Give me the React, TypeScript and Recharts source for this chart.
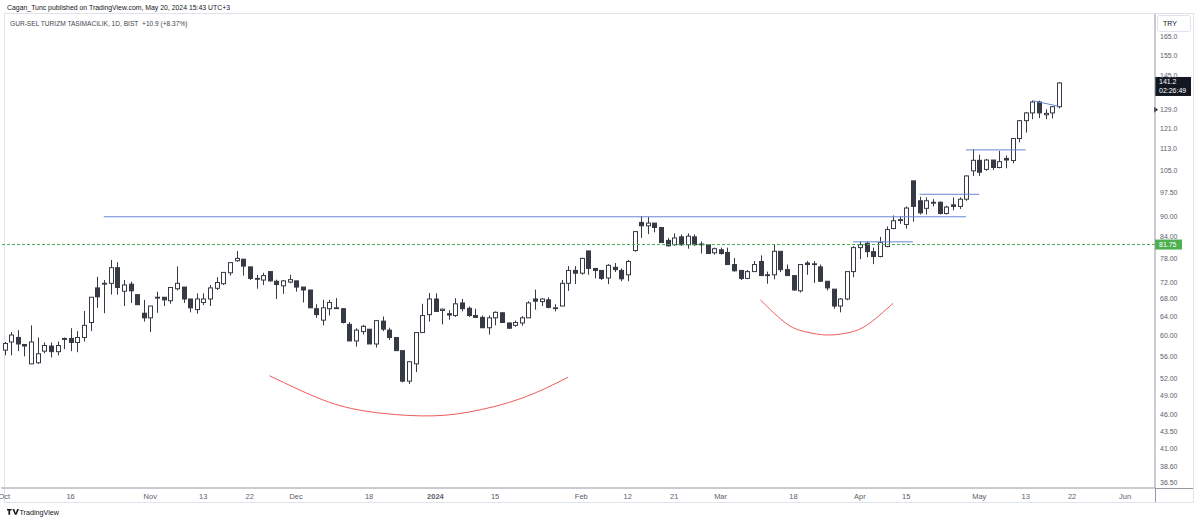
import React from 'react';
import { ComposedChart, Bar, Line, XAxis, YAxis, ReferenceLine } from 'recharts';

// GUR-SEL daily candles, Oct 2 2023 .. May 20 2024 (BIST sessions)
const opens = [
  57.2, 58.8, 59.7, 58.3, 54.6, 54.8, 57.0, 58.0, 56.9, 59.3,
  59.5, 58.7, 59.7, 62.8, 70.6, 71.5, 71.7, 75.6, 69.8, 71.5,
  69.0, 64.8, 63.8, 68.2, 68.4, 67.6, 70.4, 70.8, 68.0, 65.6,
  67.2, 68.0, 70.5, 71.6, 74.3, 77.4, 77.8, 75.8, 72.9, 72.5,
  74.6, 72.2, 71.1, 72.0, 72.3, 70.8, 70.1, 65.8, 63.3, 65.8,
  66.0, 65.8, 62.4, 59.0, 60.9, 61.4, 58.4, 63.1, 61.2, 59.7,
  57.1, 51.5, 54.6, 60.7, 64.5, 68.0, 65.4, 64.7, 64.3, 67.1,
  65.9, 64.3, 63.9, 61.7, 63.8, 64.9, 62.7, 62.2, 62.7, 63.8,
  68.0, 67.4, 67.8, 65.9, 66.4, 71.7, 74.9, 74.2, 80.0, 75.4,
  74.9, 73.0, 75.7, 74.9, 73.8, 80.1, 88.1, 87.1, 87.9, 86.6,
  82.9, 81.7, 83.9, 81.7, 83.9, 81.9, 81.7, 79.5, 80.3, 79.6,
  76.4, 74.9, 72.9, 74.6, 77.2, 73.8, 73.8, 79.9, 75.1, 73.6,
  69.9, 76.8, 76.4, 75.8, 72.2, 70.3, 66.4, 68.0, 74.6, 80.9,
  82.1, 79.8, 78.5, 81.2, 86.3, 88.9, 87.5, 101.4, 94.8, 92.4,
  94.3, 94.3, 90.8, 93.5, 93.0, 95.3, 104.9, 108.7, 105.4, 108.8,
  106.1, 109.4, 108.6, 117.0, 124.3, 127.6, 132.4, 126.8, 127.6, 130.3,
];
const highs = [
  58.8, 60.8, 61.2, 58.3, 62.2, 59.7, 58.7, 58.7, 58.9, 59.7,
  61.6, 61.0, 65.3, 68.4, 73.3, 72.5, 77.6, 77.0, 72.5, 72.1,
  69.0, 67.8, 66.4, 69.7, 68.4, 70.8, 75.9, 70.8, 68.0, 69.3,
  69.3, 71.3, 73.2, 74.4, 76.9, 80.0, 77.8, 75.8, 73.8, 74.3,
  74.6, 72.6, 72.5, 73.8, 72.3, 70.8, 70.1, 66.8, 67.8, 67.8,
  68.2, 65.8, 62.9, 61.6, 62.3, 61.4, 63.2, 64.1, 61.7, 59.8,
  57.1, 55.0, 60.7, 66.9, 69.4, 69.3, 65.8, 65.5, 68.2, 68.0,
  66.3, 65.8, 64.3, 64.3, 65.2, 65.0, 62.8, 63.2, 64.2, 67.5,
  70.2, 68.2, 68.4, 66.8, 72.5, 76.0, 76.0, 78.2, 80.0, 75.4,
  74.9, 76.5, 76.8, 75.4, 77.6, 85.6, 90.0, 89.7, 87.9, 86.6,
  83.6, 84.9, 84.6, 84.9, 84.6, 82.6, 81.7, 80.9, 80.9, 80.9,
  78.1, 75.0, 75.0, 77.3, 78.8, 74.6, 81.7, 79.9, 76.4, 73.6,
  76.4, 77.3, 77.3, 76.4, 72.2, 70.3, 68.2, 74.6, 81.3, 82.6,
  82.6, 80.9, 83.9, 86.9, 90.2, 90.0, 93.0, 101.4, 96.1, 95.9,
  95.3, 94.6, 93.2, 95.9, 95.9, 103.3, 112.8, 110.8, 109.2, 108.8,
  112.2, 110.5, 117.2, 124.6, 128.0, 133.0, 133.0, 129.2, 130.6, 141.6,
];
const lows = [
  56.2, 56.2, 57.0, 56.0, 54.6, 54.6, 56.6, 55.8, 56.2, 57.4,
  57.0, 56.8, 58.9, 61.0, 66.0, 64.8, 69.0, 69.0, 66.4, 67.1,
  66.6, 63.0, 60.8, 64.9, 66.4, 66.9, 70.0, 67.1, 65.0, 64.7,
  66.6, 66.4, 70.1, 71.3, 73.6, 77.1, 73.6, 72.5, 70.4, 71.3,
  72.1, 68.0, 69.2, 71.7, 69.7, 67.2, 66.0, 63.8, 62.2, 64.3,
  65.8, 62.6, 59.0, 57.9, 60.3, 58.4, 57.7, 61.0, 59.2, 57.1,
  51.3, 51.0, 53.1, 60.7, 63.0, 65.2, 62.4, 63.4, 64.0, 65.2,
  64.0, 63.8, 61.7, 60.3, 62.2, 62.8, 61.5, 61.9, 62.1, 63.8,
  65.6, 66.4, 65.9, 65.2, 66.4, 69.9, 71.5, 73.8, 73.8, 72.9,
  72.5, 71.5, 74.5, 72.2, 72.2, 79.8, 83.6, 84.7, 85.2, 82.3,
  81.2, 81.4, 81.4, 80.6, 81.4, 79.3, 79.2, 79.0, 79.0, 76.4,
  74.6, 72.5, 72.7, 74.6, 73.6, 71.6, 72.7, 74.5, 73.6, 69.9,
  69.5, 73.8, 71.8, 72.2, 70.0, 65.8, 65.0, 67.7, 73.2, 77.8,
  78.3, 76.5, 78.3, 81.0, 86.1, 87.7, 86.3, 88.3, 90.5, 90.5,
  93.0, 90.5, 90.5, 91.8, 92.2, 94.8, 103.1, 103.1, 104.9, 105.2,
  105.8, 105.8, 107.6, 115.5, 119.4, 124.9, 125.4, 124.9, 125.2, 129.6,
];
const closes = [
  58.5, 60.2, 58.4, 58.0, 58.8, 56.5, 58.1, 56.9, 58.1, 59.5,
  58.7, 59.7, 62.2, 68.4, 68.5, 71.7, 75.6, 70.7, 71.3, 69.9,
  66.7, 63.8, 66.4, 68.4, 67.8, 70.7, 71.7, 68.0, 66.0, 68.0,
  68.0, 70.6, 71.9, 74.4, 76.9, 78.0, 76.0, 72.9, 72.8, 73.6,
  72.3, 71.4, 72.3, 72.6, 70.8, 70.1, 66.0, 64.5, 66.0, 67.2,
  65.9, 62.8, 59.0, 61.2, 62.0, 58.4, 63.2, 61.4, 59.7, 57.1,
  51.5, 55.0, 60.7, 64.3, 68.0, 65.2, 65.7, 64.4, 66.9, 65.8,
  64.3, 63.9, 61.7, 63.8, 65.0, 62.8, 61.6, 62.8, 63.8, 67.1,
  67.5, 68.0, 66.1, 66.0, 71.7, 74.9, 74.2, 78.0, 75.4, 74.9,
  72.9, 76.2, 75.1, 72.8, 77.2, 85.4, 87.1, 87.9, 86.6, 82.3,
  81.4, 83.6, 81.7, 84.1, 81.7, 81.7, 79.3, 80.6, 79.3, 76.4,
  74.8, 72.9, 74.6, 76.4, 73.6, 73.7, 79.9, 75.1, 73.6, 70.1,
  76.4, 76.4, 76.6, 72.2, 70.6, 66.4, 68.0, 74.6, 80.9, 81.7,
  79.8, 78.5, 82.3, 86.0, 88.6, 88.7, 92.5, 93.0, 91.0, 94.8,
  94.1, 90.8, 92.8, 93.0, 95.3, 103.1, 108.7, 104.4, 108.8, 106.1,
  108.2, 108.8, 117.0, 124.3, 127.6, 132.4, 127.6, 127.4, 130.3, 141.2,
];

// date axis: bar index -> label
const dateTickIdx = [0, 10, 22, 30, 37, 44, 55, 65, 74, 87, 94, 101, 108, 119, 129, 136, 147, 154, 161, 169];
const dateTickText = ['Oct', '16', 'Nov', '13', '22', 'Dec', '18', '2024', '15', 'Feb', '12', '21', 'Mar', '18', 'Apr', '15', 'May', '13', '22', 'Jun'];

const priceTicks = [36.5, 38.6, 41, 43.5, 46, 49, 52, 56, 60, 64, 68, 72, 78, 84, 90, 97.5, 105, 113, 121, 129, 145, 155, 165];

// drawings on the chart
const levelFrom = [15, 128, 138, 145];
const levelTo = [145, 137, 147, 154];
const levelPrice = [89.8, 82.5, 96.9, 112.6];
const slopeIdx = [155, 159];
const slopePrice = [133.0, 130.5];
const bowlAIdx = [40, 48, 55, 63, 70, 78, 85];
const bowlAPrice = [52.45, 48.35, 46.45, 45.79, 46.38, 48.6, 52.19];
const bowlBIdx = [114, 118, 121, 124, 127, 130, 134];
const bowlBPrice = [67.8, 62.5, 60.8, 60.2, 60.6, 62.2, 67.0];

const lastPrice = 141.2;
const lastCountdown = '02:26:49';
const markPrice = 81.75;
const arrowPrice = 129.0;
const SLOTS = 174; // sessions plus empty days up to early June

const FONT = '"Liberation Sans", Arial, sans-serif';
const DARK = '#363a45';
const BLUE = '#6a86d4';
const RED = '#f05a5a';
const GREEN = '#4caf50';
const AXIS_TEXT = '#5d606b';

const rows: any[] = Array.from({ length: SLOTS }, (_, i) => {
  const r: any = { i };
  if (i < closes.length) {
    r.o = opens[i];
    r.h = highs[i];
    r.l = lows[i];
    r.c = closes[i];
    r.range = [lows[i], highs[i]];
  }
  return r;
});
levelPrice.forEach((p, n) => {
  rows[levelFrom[n]]['lvl' + n] = p;
  rows[levelTo[n]]['lvl' + n] = p;
});
slopeIdx.forEach((k, n) => (rows[k].slope = slopePrice[n]));
bowlAIdx.forEach((k, n) => (rows[k].bowlA = bowlAPrice[n]));
bowlBIdx.forEach((k, n) => (rows[k].bowlB = bowlBPrice[n]));

const Candle = (props: any) => {
  const { x, y, width, height, payload } = props;
  if (!payload || payload.o == null || !isFinite(y) || !isFinite(height)) return null;
  const { o, h, l, c } = payload;
  const span = Math.log(h) - Math.log(l);
  const toY = (p: number) => (span > 0 ? y + ((Math.log(h) - Math.log(p)) / span) * height : y);
  const cx = Math.round(x + width / 2) + 0.5;
  const top = toY(Math.max(o, c));
  const bot = toY(Math.min(o, c));
  return (
    <g>
      <line x1={cx} x2={cx} y1={y} y2={y + height} stroke={DARK} strokeWidth={1} />
      <rect
        x={cx - 2}
        y={top}
        width={4}
        height={Math.max(bot - top, 0.8)}
        fill={c >= o ? '#ffffff' : DARK}
        stroke={DARK}
        strokeWidth={1}
      />
    </g>
  );
};

const DateTick = ({ x, y, payload }: any) => {
  const k = dateTickIdx.indexOf(Number(payload.value));
  const txt = k >= 0 ? dateTickText[k] : '';
  return (
    <text x={x} y={y + 9} textAnchor="middle" fontSize={7.5} fill={AXIS_TEXT}
      fontWeight={txt === '2024' ? 700 : 400} fontFamily={FONT}>
      {txt}
    </text>
  );
};

const fmtPrice = (p: number) => (p >= 100 ? p.toFixed(1) : p.toFixed(2));

const LastTag = ({ viewBox }: any) => {
  if (!viewBox) return null;
  const x = viewBox.x + viewBox.width;
  const y = viewBox.y;
  return (
    <g fontFamily={FONT} fontSize={7}>
      <rect x={x} y={y - 6} width={36} height={19} fill="#131722" />
      <text x={x + 4} y={y + 1.5} fill="#ffffff">{lastPrice.toFixed(1)}</text>
      <text x={x + 4} y={y + 10.5} fill="#ffffff">{lastCountdown}</text>
    </g>
  );
};

const MarkTag = ({ viewBox }: any) => {
  if (!viewBox) return null;
  const x = viewBox.x + viewBox.width;
  const y = viewBox.y;
  return (
    <g fontFamily={FONT} fontSize={7}>
      <rect x={x} y={y - 5} width={27} height={10} fill={GREEN} />
      <text x={x + 4} y={y + 2.5} fill="#ffffff">{markPrice.toFixed(2)}</text>
    </g>
  );
};

const ArrowTag = ({ viewBox }: any) => {
  if (!viewBox) return null;
  const x = viewBox.x + viewBox.width;
  const y = viewBox.y;
  return <path d={`M${x - 1} ${y - 3}L${x + 3} ${y}L${x - 1} ${y + 3}Z`} fill="#131722" />;
};

const Frame = () => (
  <svg width={1199} height={521} style={{ position: 'absolute', left: 0, top: 0 }}>
    <text x={7} y={10} fontSize={6.9} fill="#131722" fontFamily={FONT}>
      Cagan_Tunc published on TradingView.com, May 20, 2024 15:43 UTC+3
    </text>
    <rect x={4.5} y={13.5} width={1189} height={489} fill="#ffffff" stroke="#e0e3eb" />
    <text x={10} y={26} fontSize={6.6} fill="#434651" fontFamily={FONT}>
      GUR-SEL TURIZM TASIMACILIK, 1D, BIST{'\u00a0\u00a0'}+10.9 (+8.37%)
    </text>
    <rect x={1157.5} y={15.5} width={33} height={16} rx={2} fill="#ffffff" stroke="#e0e3eb" />
    <text x={1163} y={26} fontSize={7} fill="#131722" fontFamily={FONT}>TRY</text>
    <line x1={1155} x2={1193} y1={488.5} y2={488.5} stroke="#9598a1" />
    <line x1={1155.5} x2={1155.5} y1={488} y2={502} stroke="#9598a1" />
    <path d="M7 509h4.6v1.5h-1.5v4.2h-1.7v-4.2H7zM12.4 509h1.8l1.5 4 1.5-4h1.8l-2.5 5.7h-1.6z" fill="#131722" />
    <text x={19.5} y={514.5} fontSize={7.2} fill="#131722" fontFamily={FONT}>TradingView</text>
  </svg>
);

export default function App() {
  return (
    <div style={{ position: 'absolute', left: 0, top: 0, width: 1199, height: 521, background: '#ffffff', fontFamily: FONT }}>
      <Frame />
      <div style={{ position: 'absolute', left: 0, top: 0 }}>
        <ComposedChart width={1199} height={521} data={rows} margin={{ top: 14, right: 0, bottom: 0, left: 1 }}>
          <XAxis
            dataKey="i"
            type="category"
            ticks={dateTickIdx}
            interval={0}
            tick={<DateTick />}
            tickLine={false}
            tickSize={0}
            axisLine={{ stroke: '#9598a1' }}
            height={33}
          />
          <YAxis
            orientation="right"
            type="number"
            scale="log"
            domain={[35.88, 178.3]}
            allowDataOverflow
            ticks={priceTicks}
            interval={0}
            tickFormatter={fmtPrice}
            tick={{ fontSize: 7, fill: AXIS_TEXT, fontFamily: FONT }}
            tickLine={false}
            tickSize={0}
            tickMargin={5}
            axisLine={{ stroke: '#9598a1' }}
            width={44}
          />
          <ReferenceLine y={markPrice} stroke={GREEN} strokeDasharray="3 2" label={<MarkTag />} />
          <ReferenceLine y={lastPrice} stroke="none" label={<LastTag />} />
          <ReferenceLine y={arrowPrice} stroke="none" label={<ArrowTag />} />
          {levelPrice.map((_, n) => (
            <Line key={n} dataKey={'lvl' + n} type="linear" stroke={BLUE} strokeWidth={1}
              dot={false} activeDot={false} connectNulls isAnimationActive={false} />
          ))}
          <Line dataKey="slope" type="linear" stroke={BLUE} strokeWidth={1}
            dot={false} activeDot={false} connectNulls isAnimationActive={false} />
          <Line dataKey="bowlA" type="natural" stroke={RED} strokeWidth={1}
            dot={false} activeDot={false} connectNulls isAnimationActive={false} />
          <Line dataKey="bowlB" type="natural" stroke={RED} strokeWidth={1}
            dot={false} activeDot={false} connectNulls isAnimationActive={false} />
          <Bar dataKey="range" barSize={5} isAnimationActive={false}
            shape={(p: any) => <Candle {...p} />} />
        </ComposedChart>
      </div>
    </div>
  );
}
